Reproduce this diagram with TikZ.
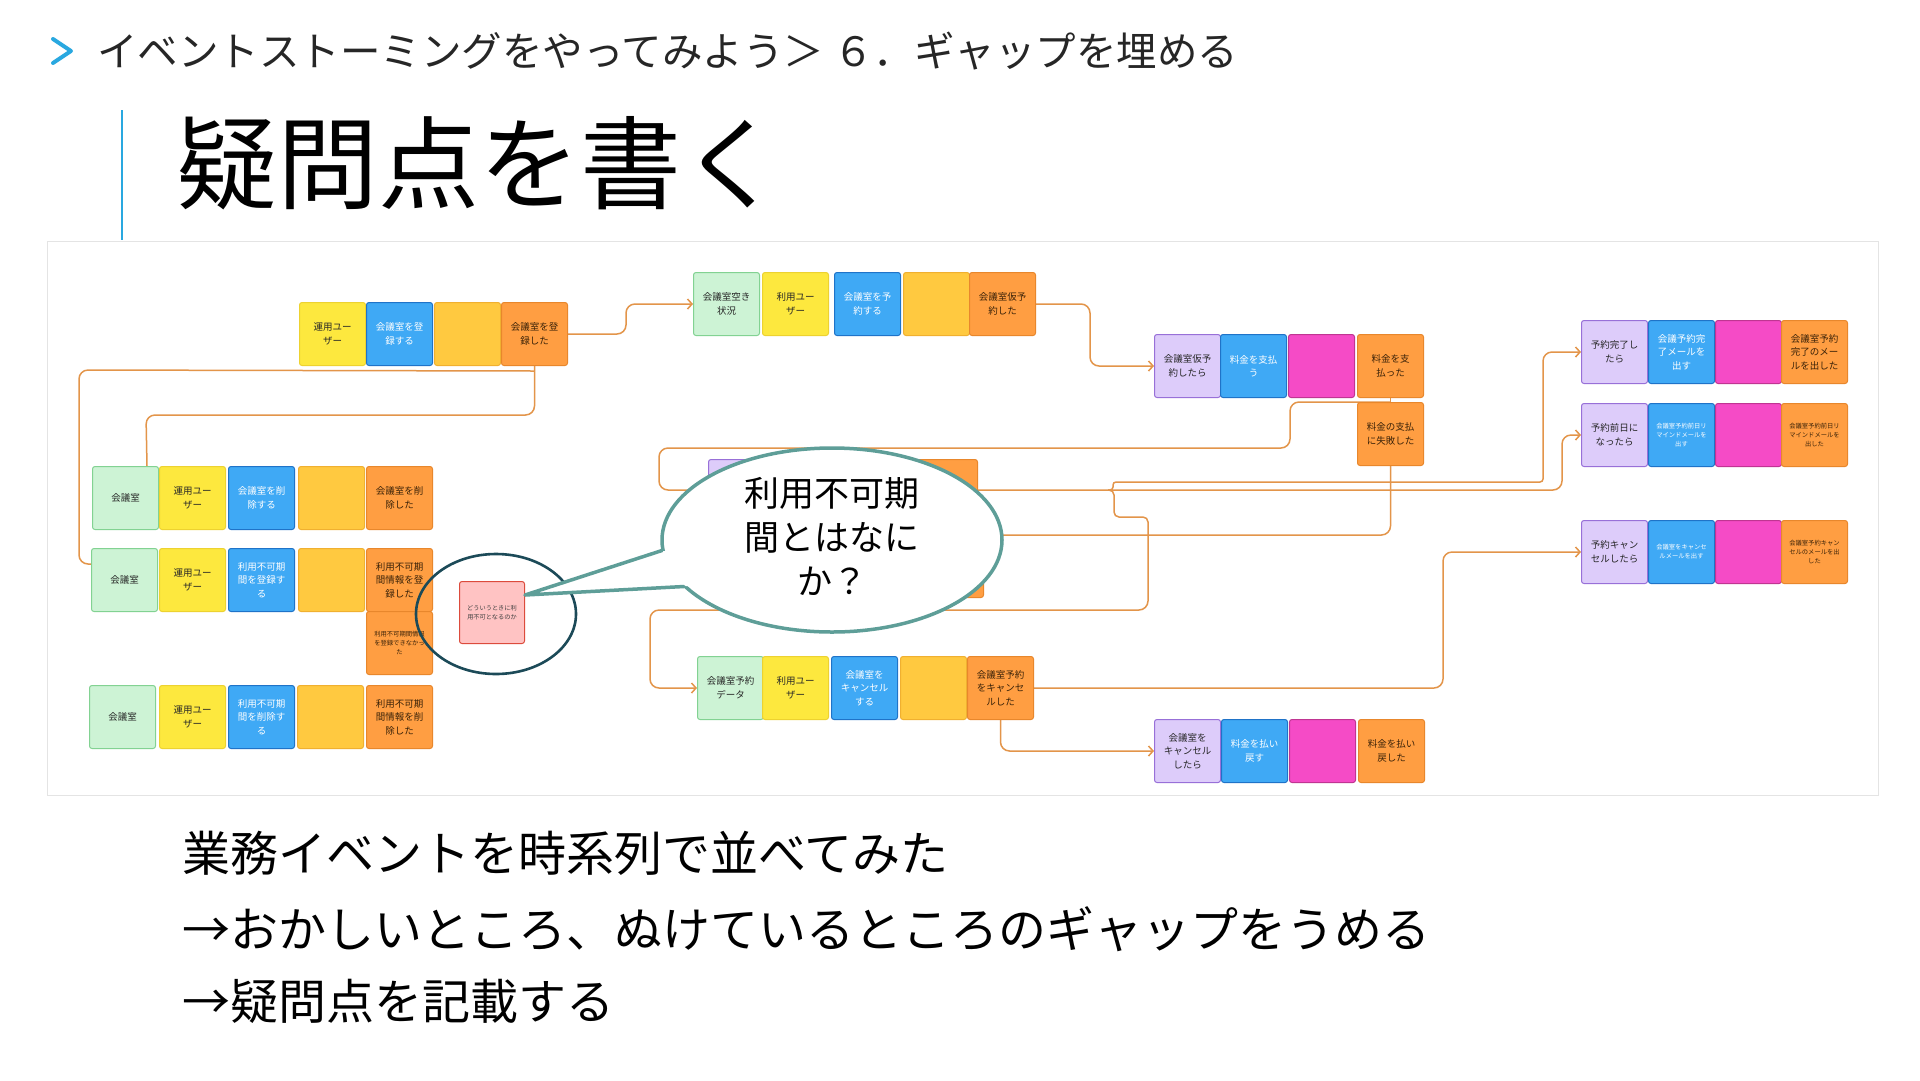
\documentclass[tikz,border=0pt]{standalone}
\usepackage{fontspec}
\setmainfont{Noto Sans CJK JP}
\usetikzlibrary{arrows.meta,shapes.geometric,backgrounds}
\definecolor{gfill}{HTML}{CDF3D5}\definecolor{gdraw}{HTML}{82D292}
\definecolor{yfill}{HTML}{FDE83E}\definecolor{ydraw}{HTML}{EDD230}
\definecolor{bfill}{HTML}{3FA9F5}\definecolor{bdraw}{HTML}{1F73C8}
\definecolor{lfill}{HTML}{FFC940}\definecolor{ldraw}{HTML}{F0B030}
\definecolor{ofill}{HTML}{FF9E42}\definecolor{odraw}{HTML}{E8872C}
\definecolor{pfill}{HTML}{DDCCFA}\definecolor{pdraw}{HTML}{9870D8}
\definecolor{mfill}{HTML}{F54BC6}\definecolor{mdraw}{HTML}{C03592}
\definecolor{qfill}{HTML}{FFC3C3}\definecolor{qdraw}{HTML}{DC4B3C}
\definecolor{connc}{HTML}{E3954A}
\definecolor{bubc}{HTML}{5E9E98}
\definecolor{circc}{HTML}{1C4A58}
\definecolor{accent}{HTML}{29A8E0}
\definecolor{panelc}{HTML}{E4E4E4}
\definecolor{otext}{HTML}{3A2208}
\begin{document}
\begin{tikzpicture}[x=1pt,y=-1pt,
  stnote/.style={rectangle, rounded corners=2.5, minimum width=66, minimum height=63,
    inner sep=1, anchor=north west, align=center, line width=1,
    font=\fontsize{9.5}{13.5}\selectfont, text=black!85},
  stG/.style={stnote, fill=gfill, draw=gdraw},
  stY/.style={stnote, fill=yfill, draw=ydraw},
  stB/.style={stnote, fill=bfill, draw=bdraw, text=white},
  stL/.style={stnote, fill=lfill, draw=ldraw},
  stO/.style={stnote, fill=ofill, draw=odraw, text=otext},
  stP/.style={stnote, fill=pfill, draw=pdraw},
  stM/.style={stnote, fill=mfill, draw=mdraw},
  stQ/.style={stnote, fill=qfill, draw=qdraw, minimum width=65, minimum height=62},
  tiny/.style={font=\fontsize{6.3}{9}\selectfont},
  conn/.style={draw=connc, line width=1.5, rounded corners=9},
  arr/.style={-{Straight Barb[length=4.5pt,width=10pt]}},
  txt/.style={anchor=west, inner sep=0}
]
\useasboundingbox (0,0) rectangle (1920,1080);

% header
\draw[accent, line width=4, line cap=round, line join=round] (53,39) -- (71,51) -- (53,63);
\node[txt, font=\fontsize{40.5}{48}\selectfont, text=black!85] (hdr) at (97,51)
  {イベントストーミングをやってみよう＞ ６．ギャップを埋める};
\draw[accent, line width=2.5] (122,110) -- (122,240);
\node[txt, font=\fontsize{101}{112}\selectfont] (ttl) at (176,163) {疑問点を書く};

% bottom text
\node[txt, font=\fontsize{48}{56}\selectfont] (t1) at (182,853) {業務イベントを時系列で並べてみた};
\node[txt, font=\fontsize{48}{56}\selectfont] (t2) at (182,929) {→おかしいところ、ぬけているところのギャップをうめる};
\node[txt, font=\fontsize{48}{56}\selectfont] (t3) at (182,1001) {→疑問点を記載する};

\coordinate (jn) at (1108,490);
\coordinate (hid) at (940,535);

% Row A
\node[stY] (a1) at (299,302) {運用ユー\\ザー};
\node[stB] (a2) at (366,302) {会議室を登\\録する};
\node[stL] (a3) at (434,302) {};
\node[stO] (a4) at (501,302) {会議室を登\\録した};
% Row E
\node[stG] (e1) at (693,272) {会議室空き\\状況};
\node[stY] (e2) at (762,272) {利用ユー\\ザー};
\node[stB] (e3) at (834,272) {会議室を予\\約する};
\node[stL] (e4) at (903,272) {};
\node[stO] (e5) at (969,272) {会議室仮予\\約した};
% Row F
\node[stP] (f1) at (1154,334) {会議室仮予\\約したら};
\node[stB] (f2) at (1220,334) {料金を支払\\う};
\node[stM] (f3) at (1288,334) {};
\node[stO] (f4) at (1357,334) {料金を支\\払った};
\node[stO] (f5) at (1357,402) {料金の支払\\に失敗した};
% Rows H I J
\node[stP] (h1) at (1581,320) {予約完了し\\たら};
\node[stB] (h2) at (1648,320) {会議予約完\\了メールを\\出す};
\node[stM] (h3) at (1715,320) {};
\node[stO] (h4) at (1781,320) {会議室予約\\完了のメー\\ルを出した};
\node[stP] (i1) at (1581,403) {予約前日に\\なったら};
\node[stB, tiny] (i2) at (1648,403) {会議室予約前日リ\\マインドメールを\\出す};
\node[stM] (i3) at (1715,403) {};
\node[stO, tiny] (i4) at (1781,403) {会議室予約前日リ\\マインドメールを\\出した};
\node[stP] (j1) at (1581,520) {予約キャン\\セルしたら};
\node[stB, tiny] (j2) at (1648,520) {会議室をキャンセ\\ルメールを出す};
\node[stM] (j3) at (1715,520) {};
\node[stO, tiny] (j4) at (1781,520) {会議室予約キャン\\セルのメールを出\\した};
% Row K, L
\node[stG] (k1) at (697,656) {会議室予約\\データ};
\node[stY] (k2) at (762,656) {利用ユー\\ザー};
\node[stB] (k3) at (831,656) {会議室を\\キャンセル\\する};
\node[stL] (k4) at (900,656) {};
\node[stO] (k5) at (967,656) {会議室予約\\をキャンセ\\ルした};
\node[stP] (l1) at (1154,719) {会議室を\\キャンセル\\したら};
\node[stB] (l2) at (1221,719) {料金を払い\\戻す};
\node[stM] (l3) at (1289,719) {};
\node[stO] (l4) at (1358,719) {料金を払い\\戻した};
% Rows B C D
\node[stG] (b1) at (92,466) {会議室};
\node[stY] (b2) at (159,466) {運用ユー\\ザー};
\node[stB] (b3) at (228,466) {会議室を削\\除する};
\node[stL] (b4) at (298,466) {};
\node[stO] (b5) at (366,466) {会議室を削\\除した};
\node[stG] (c1) at (91,548) {会議室};
\node[stY] (c2) at (159,548) {運用ユー\\ザー};
\node[stB] (c3) at (228,548) {利用不可期\\間を登録す\\る};
\node[stL] (c4) at (298,548) {};
\node[stO] (c5) at (366,548) {利用不可期\\間情報を登\\録した};
\node[stO, tiny] (c6) at (366,611) {利用不可期間情報\\を登録できなかっ\\た};
\node[stG] (d1) at (89,685) {会議室};
\node[stY] (d2) at (159,685) {運用ユー\\ザー};
\node[stB] (d3) at (228,685) {利用不可期\\間を削除す\\る};
\node[stL] (d4) at (297,685) {};
\node[stO] (d5) at (366,685) {利用不可期\\間情報を削\\除した};
% Row G (mostly hidden behind the bubble)
\node[stP] (g1) at (708,459) {};
\node[stB] (g2) at (775,459) {};
\node[stM] (g3) at (842,459) {};
\node[stO] (g4) at (911,459) {};
\node[stO] (g5) at (917,534) {};

% question note and circle
\node[stQ, tiny, font=\fontsize{6.2}{9}\selectfont, text=black!75] (q) at (459,581) {どういうときに利\\用不可となるのか};
\node[ellipse, draw=circc, line width=2.6, minimum width=160, minimum height=120, inner sep=0] (qc) at (496,614) {};

% connectors behind
\begin{scope}[on background layer]
\fill[white] (0,0) rectangle (1920,1080);
\draw[panelc, line width=1] (47,241) rectangle (1878,795);
\draw[conn, arr] (a4.east) -- ++(58,0) |- (e1.west);
\draw[conn, arr] (e5.east) -- ++(54,0) |- (f1.west);
\draw[conn] (a4.south) |- (146,415) -- ([xshift=-12pt]b1.north east);
\draw[conn] ([yshift=-5pt]a4.south) -- (79,370) |- ([yshift=16pt]c1.west);
\draw[conn] (f4.south) -- (f5.north);
\draw[conn] (f5.north) -- (1290,402) -- (1290,448) -- (659,448) -- (659,490) -- (jn);
\draw[conn, arr] (jn) [rounded corners=3] -- ++(5,0) -- ++(0,-8) -- (1543,482) [rounded corners=9] |- (h1.west);
\draw[conn, arr] (jn) -- (1562,490) |- (i1.west);
\draw[conn, arr] (jn) [rounded corners=5] -- ++(6,0) -- ++(0,27) -- (1148,517) [rounded corners=9] |- (650,610) |- (k1.west);
\draw[conn] (f5.south) |- (hid);
\draw[conn, arr] (k5.east) -- ++(409,0) |- (j1.west);
\draw[conn, arr] (k5.south) |- (l1.west);
\end{scope}

% speech bubble
\node[ellipse, draw=bubc, fill=white, line width=3.5, minimum width=340, minimum height=184, inner sep=0] (bub) at (832,540) {};
\fill[white] (525,595) -- (663.5,551) -- (692,551) -- (702,586) -- (685,586) -- cycle;
\draw[bubc, line width=3.5, line join=round, line cap=round] (662,550.5) -- (525,595) -- (684,586.5);
\node[font=\fontsize{35}{44}\selectfont, align=center, inner sep=0] (bubtext) at (832,536) {利用不可期\\間とはなに\\か？};
\end{tikzpicture}
\end{document}
